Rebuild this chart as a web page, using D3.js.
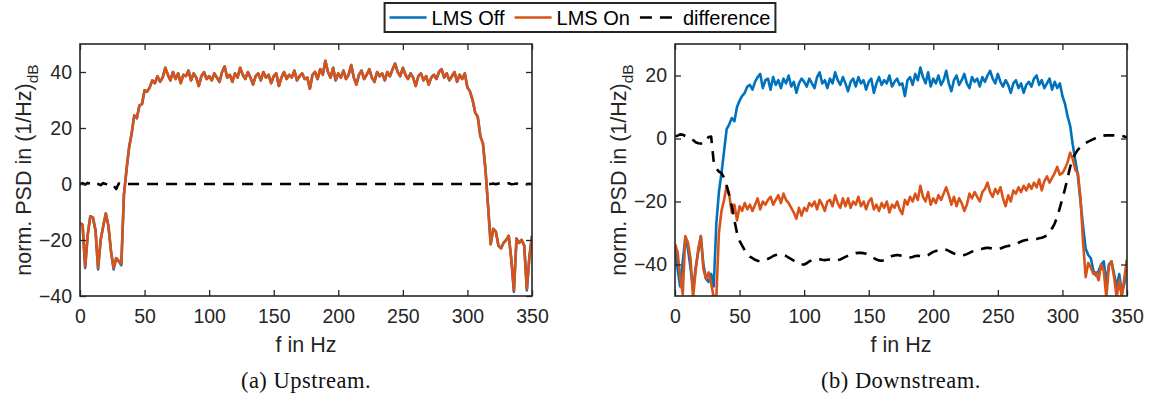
<!DOCTYPE html>
<html><head><meta charset="utf-8">
<script src="https://cdn.jsdelivr.net/npm/d3@7/dist/d3.min.js"></script>
<style>body{margin:0;background:#fff}svg{display:block}</style>
</head><body>
<svg id="c" width="1155" height="401"></svg>
<script>
// ---------- DATA ----------
const freq = [
0,2,4,6,8,10,12,14,16,18, 20,22,24,26,28,30,32,34,36,38,
40,42,44,46,48,50,52,54,56,58, 60,62,64,66,68,70,72,74,76,78,
80,82,84,86,88,90,92,94,96,98, 100,102,104,106,108,110,112,114,116,118,
120,122,124,126,128,130,132,134,136,138, 140,142,144,146,148,150,152,154,156,158,
160,162,164,166,168,170,172,174,176,178, 180,182,184,186,188,190,192,194,196,198,
200,202,204,206,208,210,212,214,216,218, 220,222,224,226,228,230,232,234,236,238,
240,242,244,246,248,250,252,254,256,258, 260,262,264,266,268,270,272,274,276,278,
280,282,284,286,288,290,292,294,296,298, 300,302,304,306,308,310,312,314,316,318,
320,322,324,326,328,330,332,334,336,338, 340,342,344,346,348,350];

const xTicks = [0,50,100,150,200,250,300,350];
const upYTicks = [-40,-20,0,20,40];
const dnYTicks = [-40,-20,0,20];
const upYDomain = [-40,50];
const dnYDomain = [-50,30];

// Upstream, LMS On
const upOn = [
-14,-14.5,-29.5,-18,-11.5,-12,-16.5,-30,-20,-15,
-10.5,-15,-24,-30,-26.5,-27.5,-28.5,-4,5,13,
18,24.5,23.5,28,28.5,33.5,33,34.5,37,36,
38.5,36.5,38,41.5,39,37,40,37.5,39.5,36,
39,38.5,40.5,37,39.5,38,35,38.5,40,37.5,
38.5,37,39.5,38,36.5,40,42,38,39,36.5,
39.5,38,41.5,39,37.5,40,38,35.5,38.5,39.5,
37,40,38,39,36,38.5,39.5,35,38,40,
37.5,39,38,40.5,37,38.5,39.5,37.5,38,34,
39,40,37.5,41,39,44,40,38,41.5,37,
39.5,38,40.5,37.5,39,42.5,38,35.5,39,40.5,
37.5,39,41,38,36.5,40,38.5,39.5,37,40,
38.5,41,43,40,38.5,41.5,39,37.5,39.5,38,
35,38.5,39.5,37,38.5,35.5,38,39,37.5,40,
41,38,39.5,37,38.5,40,36.5,39,37.5,39.5,
34.5,33,30,25.5,24,17,14.5,5,-8,-21.5,
-16,-17,-22,-23,-21,-20,-18.5,-27,-38,-19.5,
-21,-20,-22,-37.5,-26,-18.5];

// Upstream, LMS Off
const upOff = [
-14,-14.5,-30,-18,-11.5,-12,-16.5,-30.5,-20,-15,
-10.5,-15,-24,-30.5,-26.5,-27.5,-29,-4,5,13,
18,24.5,23.5,28,28.5,33.5,33,34.5,37,36,
38.5,36.5,38,41.5,39,37,40,37.5,39.5,36,
39,38.5,40.5,37,39.5,38,35,38.5,40,37.5,
38.5,37,39.5,38,36.5,40,42,38,39,36.5,
39.5,38,41.5,39,37.5,40,38,35.5,38.5,39.5,
37,40,38,39,36,38.5,39.5,35,38,40,
37.5,39,38,40.5,37,38.5,39.5,37.5,38,34,
39,40,37.5,41,39,44,40,38,41.5,37,
39.5,38,40.5,37.5,39,42.5,38,35.5,39,40.5,
37.5,39,41,38,36.5,40,38.5,39.5,37,40,
38.5,41,43,40,38.5,41.5,39,37.5,39.5,38,
35,38.5,39.5,37,38.5,35.5,38,39,37.5,40,
41,38,39.5,37,38.5,40,36.5,39,37.5,39.5,
34.5,33,30,25.5,24,17,14.5,5,-8,-21.5,
-16,-17,-22,-23,-21,-20,-18.5,-27,-38.5,-19.5,
-21,-20,-22,-38,-26,-18.5];

// Upstream, difference
const upDiff = [
0,0.3,-0.2,0.4,0,-0.3,0.2,0,-0.4,0.3,
0,-0.2,0.1,-0.6,-1.8,0.2,0,0,0,0,
0,0,0,0,0,0,0,0,0,0,
0,0,0,0,0,0,0,0,0,0,
0,0,0,0,0,0,0,0,0,0,
0,0,0,0,0,0,0,0,0,0,
0,0,0,0,0,0,0,0,0,0,
0,0,0,0,0,0,0,0,0,0,
0,0,0,0,0,0,0,0,0,0,
0,0,0,0,0,0,0,0,0,0,
0,0,0,0,0,0,0,0,0,0,
0,0,0,0,0,0,0,0,0,0,
0,0,0,0,0,0,0,0,0,0,
0,0,0,0,0,0,0,0,0,0,
0,0,0,0,0,0,0,0,0,0,
0,0,0,0,0,0,0,0,0,0,
0.2,-0.1,0.2,0,-0.2,0.1,0.3,-0.1,0,0.2,
-0.2,0,0.2,-0.1,0.1,0];

// Downstream, LMS Off
const dnOff = [
-34,-41.5,-47,-39,-31.5,-35,-41,-48,-41,-36,
-31,-40,-44.5,-45.5,-43,-47,-27,-17,-11,-4,
3,4.5,6.5,5.5,10,12,13.5,14.5,16.5,17,
15.5,18,19.5,20.5,16,18.5,19,15.5,19.5,17,
18.5,16,19,17.5,20,16.5,18,14.5,17.5,19,
18,16.5,19,17.5,16,19.5,21,17.5,18.5,16,
19,17.5,21,18.5,17,19.5,17.5,15,18,19,
16.5,19.5,17.5,18.5,15.5,18,19,14.5,17.5,19.5,
17,18.5,17.5,20,16.5,18,19,17,17.5,13.5,
18.5,19.5,17,20.5,18.5,22.5,19.5,17.5,21,16.5,
19,17.5,20,17,18.5,21.5,17.5,15,18.5,20,
17,18.5,20.5,17.5,16,19.5,18,19,16.5,19.5,
18,20,21.5,19,17.5,20.5,18,16.5,18.5,17,
14.5,17.5,18.5,16,17.5,14.5,17,18,16.5,19,
20,17,18.5,16,17.5,19,15.5,18,16,17.5,
13.5,11,7,4,-2,-7,-12,-20,-28,-35,
-37,-38,-42,-43.5,-42,-40,-39,-46,-40,-39,
-43,-47,-43,-49,-46,-38.5];

// Downstream, LMS On
const dnOn = [
-33.5,-36,-44,-49.5,-31,-33,-38,-50.5,-42,-35,
-31,-41.5,-44.5,-42.5,-46,-50.5,-50.5,-30,-23,-19.5,
-15,-18,-23.5,-21,-26,-21.5,-23,-20.5,-22.5,-21,
-23,-21,-19,-22.5,-20,-21,-19.5,-18.5,-21,-19.5,
-18,-20.5,-17.5,-19.5,-20.5,-22,-23.5,-25.5,-22,-24.5,
-22,-23,-20.5,-21.5,-20,-22.5,-19.5,-21,-23,-20,
-19.5,-21.5,-18,-20.5,-22,-19,-21.5,-19,-22,-20,
-21,-18.5,-21.5,-20,-22.5,-20,-19,-22.5,-21,-23,
-20.5,-22,-20,-23.5,-21,-22,-20,-22.5,-24,-19.5,
-21,-18.5,-20,-17.5,-19.5,-15,-18.5,-20,-17,-21,
-19,-20.5,-18,-19.5,-17.5,-15.5,-18,-21,-18.5,-21.5,
-19,-20.5,-23,-21,-17.5,-19,-17,-18.5,-20,-17,
-16,-14,-17,-18.5,-16,-17.5,-15.5,-19,-21.5,-18,
-20,-16.5,-17.5,-15.5,-17,-15,-16.5,-14.5,-16,-14,
-15.5,-13,-16.5,-13.5,-12,-14,-12.5,-11,-9,-11.5,
-11,-9.5,-7.5,-4.5,-6.5,-10,-11,-19,-33,-44,
-39.5,-41,-43,-42.5,-45,-40,-42,-50.5,-40.5,-39,
-44,-50.5,-45,-50.5,-44,-38.5];

// Downstream, difference
const dnDiff = [
0.7,0.9,1.3,1.2,0.8,0.6,0,-0.5,-1.2,-1.5,
-1.6,-1.7,-0.8,0.5,0.6,-7.5,-9.5,-10.5,-11,-12.5,
-15,-18,-21.5,-26,-30,-32.5,-34,-35.5,-36.5,-37.5,
-38,-38.5,-38.8,-39,-38.8,-38.5,-38.2,-37.8,-37.3,-37,
-36.8,-36.8,-37,-37.3,-37.8,-38.3,-38.8,-39.3,-39.7,-40,
-40,-39.6,-39,-38.6,-38.3,-38.2,-38.3,-38.5,-38.6,-38.5,
-38.4,-38.5,-38.6,-38.6,-38.4,-38,-37.6,-37.2,-36.9,-36.6,
-36.4,-36.3,-36.3,-36.4,-36.6,-37,-37.5,-38,-38.4,-38.7,
-38.8,-38.6,-38.2,-37.7,-37.3,-37.1,-37,-37.1,-37.3,-37.6,
-37.8,-37.8,-37.6,-37.3,-37.2,-37.3,-37.5,-37.4,-37,-36.5,
-36,-35.7,-35.4,-35.2,-35.1,-35.3,-35.7,-36.1,-36.5,-36.8,
-37,-37.1,-37,-36.7,-36.3,-35.9,-35.6,-35.4,-35.2,-35,
-34.8,-34.7,-34.8,-35,-35.1,-35.1,-34.9,-34.6,-34.3,-34.1,
-34,-33.8,-33.5,-33.1,-32.7,-32.4,-32.2,-32.1,-32,-32,
-31.9,-31.7,-31.5,-31.2,-30.8,-29.8,-28.5,-27,-24.8,-22,
-19,-16,-12.5,-9,-6.5,-4.8,-3.6,-2.6,-2,-1.4,
-1,-0.6,-0.2,0.2,0.5,0.7,0.9,1,1,1,
1,0.9,0.9,0.8,0.6,0.4];

const seriesNames = ["LMS Off","LMS On","difference"];
const seriesColors = ["#0072BD","#D95319","#000000"];
const xLabel = "f in Hz";
const yLabelMain = "norm. PSD in (1/Hz)";
const yLabelSub = "dB";
const captions = ["(a) Upstream.","(b) Downstream."];

// ---------- DRAW ----------
const svg = d3.select('#c');
svg.append('rect').attr('width',1155).attr('height',401).attr('fill','#fff');
const SANS = '"Liberation Sans", Arial, Helvetica, sans-serif';
const SERIF = '"Liberation Serif", "Times New Roman", serif';
const AX = '#262626';
const FS = 19.5;     // tick labels
const LFS = 21.5;    // axis labels
const LW = 2.6;
const DASH = '11,8';

function panel(cfg){
  const {left,right,top,bottom,yDomain,yTicks,off,on,diff,caption,id} = cfg;
  const x = d3.scaleLinear().domain([0,350]).range([left,right]);
  const y = d3.scaleLinear().domain(yDomain).range([bottom,top]);
  svg.append('clipPath').attr('id',id).append('rect')
    .attr('x',left).attr('y',top).attr('width',right-left).attr('height',bottom-top);
  const g = svg.append('g');
  const line = d3.line().x((d,i)=>x(freq[i])).y(d=>y(d));
  [off,on,diff].forEach((vals,k)=>{
    g.append('path').datum(vals).attr('d',line)
      .attr('fill','none').attr('stroke',seriesColors[k]).attr('stroke-width',LW)
      .attr('stroke-linejoin','round')
      .attr('stroke-dasharray',k===2?DASH:null)
      .attr('clip-path',`url(#${id})`);
  });
  const style = sel => {
    sel.select('.domain').remove();
    sel.selectAll('line').attr('stroke',AX).attr('stroke-width',1.3);
    sel.selectAll('text').attr('fill',AX).attr('font-family',SANS).attr('font-size',FS);
  };
  g.append('g').attr('transform',`translate(0,${bottom})`)
    .call(d3.axisBottom(x).tickValues(xTicks).tickSizeInner(-6).tickSizeOuter(0).tickPadding(13)).call(style);
  g.append('g').attr('transform',`translate(0,${top})`)
    .call(d3.axisTop(x).tickValues(xTicks).tickSizeInner(-6).tickSizeOuter(0).tickFormat('')).call(style);
  g.append('g').attr('transform',`translate(${left},0)`)
    .call(d3.axisLeft(y).tickValues(yTicks).tickSizeInner(-6).tickSizeOuter(0).tickPadding(8)).call(style);
  g.append('g').attr('transform',`translate(${right},0)`)
    .call(d3.axisRight(y).tickValues(yTicks).tickSizeInner(-6).tickSizeOuter(0).tickFormat('')).call(style);
  g.append('rect').attr('x',left).attr('y',top).attr('width',right-left).attr('height',bottom-top)
    .attr('fill','none').attr('stroke',AX).attr('stroke-width',1.6);
  const cx = (left+right)/2;
  g.append('text').attr('x',cx).attr('y',352).attr('text-anchor','middle')
    .attr('font-family',SANS).attr('font-size',LFS).attr('fill',AX).text(xLabel);
  const yl = g.append('text').attr('transform',`translate(${left-49},${(top+bottom)/2}) rotate(-90)`)
    .attr('text-anchor','middle').attr('font-family',SANS).attr('font-size',LFS).attr('fill',AX);
  yl.append('tspan').text(yLabelMain);
  yl.append('tspan').attr('dy',7).attr('font-size',15.5).text(yLabelSub);
  g.append('text').attr('x',cx).attr('y',388).attr('text-anchor','middle')
    .attr('font-family',SERIF).attr('font-size',22.5).attr('letter-spacing',0.5)
    .attr('fill','#111').text(caption);
}

panel({left:80,right:532,top:44,bottom:296,yDomain:upYDomain,yTicks:upYTicks,
  off:upOff,on:upOn,diff:upDiff,caption:captions[0],id:'clipA'});
panel({left:675,right:1127,top:44,bottom:296,yDomain:dnYDomain,yTicks:dnYTicks,
  off:dnOff,on:dnOn,diff:dnDiff,caption:captions[1],id:'clipB'});

// legend
const lg = svg.append('g');
const boxY = 3, boxH = 29, midY = boxY + boxH/2;
let cur = 0;
seriesNames.forEach((name,k)=>{
  const lineLen = k===2 ? 32 : 37;
  const gapT = k===2 ? 11 : 5;
  lg.append('line').attr('x1',cur).attr('x2',cur+lineLen).attr('y1',midY).attr('y2',midY)
    .attr('stroke',seriesColors[k]).attr('stroke-width',LW)
    .attr('stroke-dasharray',k===2?'12,8':null);
  const t = lg.append('text').attr('x',cur+lineLen+gapT).attr('y',midY).attr('dy','0.36em')
    .attr('font-family',SANS).attr('font-size',20).attr('fill','#000').text(name);
  const w = t.node().getComputedTextLength();
  cur += lineLen + gapT + w + 10;
});
const totalW = cur - 10 + 5 + 5;
const bx = 580 - totalW/2;
lg.attr('transform',`translate(${bx+5},0)`);
lg.insert('rect',':first-child').attr('x',-5).attr('y',boxY).attr('width',totalW).attr('height',boxH)
  .attr('fill','#fff').attr('stroke',AX).attr('stroke-width',2);
</script>
</body></html>
